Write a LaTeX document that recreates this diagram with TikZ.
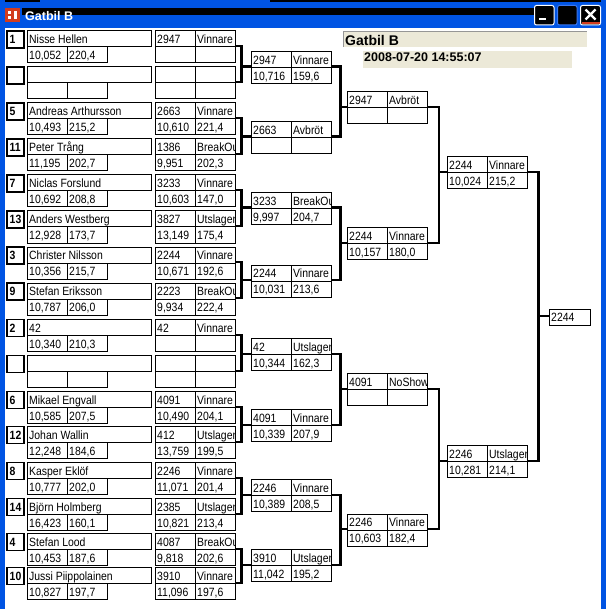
\documentclass[tikz,border=0pt]{standalone}
\usepackage{fontspec}
\setmainfont{Liberation Sans}
\newfontfamily\ui[FakeStretch=0.87]{Liberation Sans}
\definecolor{xpblue}{RGB}{0,84,227}
\definecolor{xpbeige}{RGB}{236,233,216}
\definecolor{xpgray}{RGB}{150,150,150}
\definecolor{xpred}{RGB}{210,60,30}
\tikzset{
  cellbox/.style={draw=black,line width=1pt},
  seedbox/.style={draw=black,line width=1.6pt},
  ctext/.style={anchor=base west,inner sep=0pt,font=\ui\fontsize{12}{12}\selectfont},
  stext/.style={anchor=base west,inner sep=0pt,font=\ui\bfseries\fontsize{12}{12}\selectfont},
  br/.style={line width=2.4pt,line join=miter},
  btn/.style={fill=black,rounded corners=2pt,line width=1pt},
}
\newcommand\cellt[5]{%
  \begin{scope}
    \clip (#2,#3) rectangle ++(#4,16);
    \node[ctext] (#1) at ({#2+2},{#3+12.6}) {#5};
  \end{scope}
  \draw[cellbox] (#2,#3) rectangle ++(#4,16);
}
\newcommand\entry[6]{%
  \draw[seedbox] (7,#2) rectangle ++(17,17);
  \node[stext] (#1s) at (9.5,{#2+12.8}) {#3};
  \cellt{#1n}{27}{#2}{124}{#4}
  \cellt{#1t}{27}{#2+16}{40}{#5}
  \cellt{#1v}{67}{#2+16}{40}{#6}
}
\newcommand\res[7]{%
  \cellt{#1a}{#2}{#3}{40}{#4}
  \cellt{#1b}{#2+40}{#3}{40}{#5}
  \cellt{#1c}{#2}{#3+16}{40}{#6}
  \cellt{#1d}{#2+40}{#3+16}{40}{#7}
  \coordinate (#1e) at ({#2+80},{#3+15.2});
  \coordinate (#1w) at (#2,{#3+15.2});
}
\newcommand\brk[4]{%
  \draw[br] (#1e) -- (#1e -| #4) -- (#2e -| #4) -- (#2e);
  \draw[br] (#3w -| #4) -- (#3w);
}
\begin{document}
\begin{tikzpicture}[x=1pt,y=-1pt]
\useasboundingbox (0,0) rectangle (606,609);
\fill[white] (0,0) rectangle (606,609);
% window frame and title bar
\fill[xpblue] (0,0) rectangle (606,28.5);
\fill[black] (270,0) rectangle (606,2.5);
\fill[black] (0,0) rectangle (40,2);
\fill[black] (22,8.5) rectangle (534,15);
\fill[xpblue] (0,0) rectangle (4.5,609);
\fill[xpblue] (601,0) rectangle (606,609);
\fill[xpred] (5,8) rectangle (20,22);
\fill[white] (8,11) rectangle (11,14);
\fill[white] (8,16) rectangle (11,19);
\fill[white] (14,11) rectangle (17,19);
\node[anchor=base west,inner sep=0pt,text=white,font=\bfseries\fontsize{12.5}{13}\selectfont] (wtitle) at (25,20.5) {Gatbil B};
\draw[btn,draw=white] (534.5,5.5) rectangle (554,25);
\fill[white] (539,18) rectangle (546,20.5);
\draw[btn,draw={rgb,255:red,60;green,120;blue,240}] (557.5,5.5) rectangle (577,25);
\draw[btn,draw=white] (580.5,5.5) rectangle (600.5,25);
\fill[xpred] (581.5,22.5) rectangle (599.5,24.5);
\draw[white,line width=2.4pt] (585.5,9.5) -- (595.5,19.5) (595.5,9.5) -- (585.5,19.5);
% header
\fill[xpbeige] (343,31) rectangle (587,47);
\draw[xpgray,line width=1.5pt] (343.7,47) -- (343.7,31.7) -- (587,31.7);
\node[anchor=base west,inner sep=0pt,font=\bfseries\fontsize{14}{15}\selectfont] (hdr) at (345,45.3) {Gatbil B};
\fill[xpbeige] (363,51) rectangle (572,68);
\node[anchor=base west,inner sep=0pt,font=\bfseries\fontsize{12.5}{13}\selectfont] (date) at (364,61.7) {2008-07-20 14:55:07};
% round 1 entries
\entry{p0}{31}{1}{Nisse Hellen}{10,052}{220,4}
\entry{p1}{67}{}{}{}{}
\entry{p2}{103}{5}{Andreas Arthursson}{10,493}{215,2}
\entry{p3}{139}{11}{Peter Trång}{11,195}{202,7}
\entry{p4}{175}{7}{Niclas Forslund}{10,692}{208,8}
\entry{p5}{211}{13}{Anders Westberg}{12,928}{173,7}
\entry{p6}{247}{3}{Christer Nilsson}{10,356}{215,7}
\entry{p7}{283}{9}{Stefan Eriksson}{10,787}{206,0}
\entry{p8}{319.5}{2}{42}{10,340}{210,3}
\entry{p9}{355.5}{}{}{}{}
\entry{p10}{391.5}{6}{Mikael Engvall}{10,585}{207,5}
\entry{p11}{426.5}{12}{Johan Wallin}{12,248}{184,6}
\entry{p12}{462.5}{8}{Kasper Eklöf}{10,777}{202,0}
\entry{p13}{498.5}{14}{Björn Holmberg}{16,423}{160,1}
\entry{p14}{533.5}{4}{Stefan Lood}{10,453}{187,6}
\entry{p15}{567.5}{10}{Jussi Piippolainen}{10,827}{197,7}
% round 1 results
\res{a0}{155}{31}{2947}{Vinnare}{}{}
\res{a1}{155}{67}{}{}{}{}
\res{a2}{155}{103}{2663}{Vinnare}{10,610}{221,4}
\res{a3}{155}{139}{1386}{BreakOut}{9,951}{202,3}
\res{a4}{155}{175}{3233}{Vinnare}{10,603}{147,0}
\res{a5}{155}{211}{3827}{Utslagen}{13,149}{175,4}
\res{a6}{155}{247}{2244}{Vinnare}{10,671}{192,6}
\res{a7}{155}{283}{2223}{BreakOut}{9,934}{222,4}
\res{a8}{155}{319.5}{42}{Vinnare}{}{}
\res{a9}{155}{355.5}{}{}{}{}
\res{a10}{155}{391.5}{4091}{Vinnare}{10,490}{204,1}
\res{a11}{155}{426.5}{412}{Utslagen}{13,759}{199,5}
\res{a12}{155}{462.5}{2246}{Vinnare}{11,071}{201,4}
\res{a13}{155}{498.5}{2385}{Utslagen}{10,821}{213,4}
\res{a14}{155}{533.5}{4087}{BreakOut}{9,818}{202,6}
\res{a15}{155}{567.5}{3910}{Vinnare}{11,096}{197,6}
% round 2
\res{b0}{251}{51.5}{2947}{Vinnare}{10,716}{159,6}
\res{b1}{251}{121.5}{2663}{Avbröt}{}{}
\res{b2}{251}{192.5}{3233}{BreakOut}{9,997}{204,7}
\res{b3}{251}{265}{2244}{Vinnare}{10,031}{213,6}
\res{b4}{251}{338.5}{42}{Utslagen}{10,344}{162,3}
\res{b5}{251}{409.5}{4091}{Vinnare}{10,339}{207,9}
\res{b6}{251}{479.5}{2246}{Vinnare}{10,389}{208,5}
\res{b7}{251}{549.5}{3910}{Utslagen}{11,042}{195,2}
% round 3
\res{c0}{347}{92}{2947}{Avbröt}{}{}
\res{c1}{347}{227.5}{2244}{Vinnare}{10,157}{180,0}
\res{c2}{347}{373.5}{4091}{NoShow}{}{}
\res{c3}{347}{514}{2246}{Vinnare}{10,603}{182,4}
% round 4
\res{d0}{447}{157}{2244}{Vinnare}{10,024}{215,2}
\res{d1}{447}{445.5}{2246}{Utslagen}{10,281}{214,1}
% final
\cellt{fin}{549}{309}{41}{2244}
\coordinate (finw) at (549,316.2);
% bracket columns
\coordinate (v1) at (241.5,0);
\coordinate (v2) at (340.5,0);
\coordinate (v3) at (439,0);
\coordinate (v4) at (538.5,0);
\brk{a0}{a1}{b0}{v1}
\brk{a2}{a3}{b1}{v1}
\brk{a4}{a5}{b2}{v1}
\brk{a6}{a7}{b3}{v1}
\brk{a8}{a9}{b4}{v1}
\brk{a10}{a11}{b5}{v1}
\brk{a12}{a13}{b6}{v1}
\brk{a14}{a15}{b7}{v1}
\brk{b0}{b1}{c0}{v2}
\brk{b2}{b3}{c1}{v2}
\brk{b4}{b5}{c2}{v2}
\brk{b6}{b7}{c3}{v2}
\brk{c0}{c1}{d0}{v3}
\brk{c2}{c3}{d1}{v3}
\brk{d0}{d1}{fin}{v4}
\end{tikzpicture}
\end{document}
